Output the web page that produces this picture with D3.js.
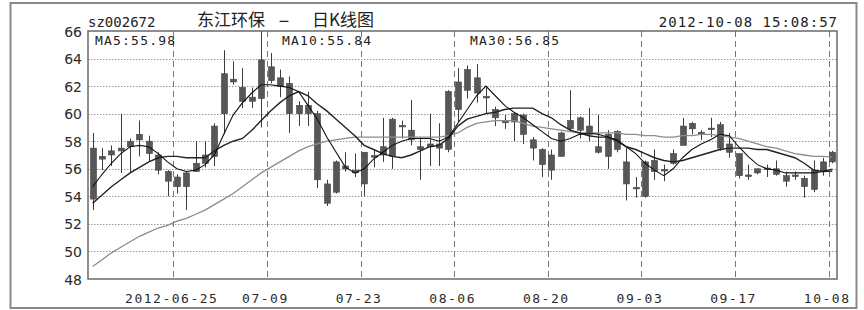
<!DOCTYPE html>
<html><head><meta charset="utf-8">
<script src="https://cdn.jsdelivr.net/npm/d3@7"></script>
<style>
html,body{margin:0;padding:0;background:#fff;}
svg{display:block;}
</style></head>
<body><svg id="c" width="864" height="310"></svg>
<script>
const dates = ["06-11","06-12","06-13","06-14","06-15","06-18","06-19","06-20","06-21",
"06-25","06-26","06-27","06-28","06-29","07-02","07-03","07-04","07-05","07-06",
"07-09","07-10","07-11","07-12","07-13","07-16","07-17","07-18","07-19","07-20",
"07-23","07-24","07-25","07-26","07-27","07-30","07-31","08-01","08-02","08-03",
"08-06","08-07","08-08","08-09","08-10","08-13","08-14","08-15","08-16","08-17",
"08-20","08-21","08-22","08-23","08-24","08-27","08-28","08-29","08-30","08-31",
"09-03","09-04","09-05","09-06","09-07","09-10","09-11","09-12","09-13","09-14",
"09-17","09-18","09-19","09-20","09-21","09-24","09-25","09-26","09-27","09-28",
"10-08"];
const openP = [57.5,56.9,57.3,57.5,57.6,58.1,58.0,57.0,55.8,55.4,54.7,55.8,56.4,56.9,60.0,62.5,61.9,61.2,61.1,63.4,
62.6,62.2,60.6,60.0,60.0,54.9,54.3,56.2,55.9,54.9,56.95,57.0,56.9,59.15,58.8,57.6,57.8,57.8,57.4,60.3,
61.7,62.6,61.25,60.3,59.45,59.4,59.9,58.1,57.4,57.0,56.9,58.9,59.7,59.1,57.6,56.9,58.7,56.5,54.65,54.0,
56.6,55.95,56.4,57.7,58.9,58.65,58.95,59.2,57.8,57.1,55.55,56.0,56.05,56.0,55.5,55.55,55.3,54.5,55.8,56.5];
const closeP = [53.8,56.7,57.0,57.3,58.0,58.5,57.1,55.9,55.1,54.7,55.7,56.4,57.0,59.1,62.9,62.3,60.9,60.9,63.9,62.4,
62.0,60.0,60.0,60.6,55.2,53.5,56.5,56.0,55.7,57.2,56.85,57.6,59.6,59.05,58.1,57.4,57.6,57.5,61.6,62.3,
63.2,61.5,61.15,59.7,59.35,60.0,58.5,57.5,56.3,55.9,58.6,59.5,58.8,58.5,57.2,58.5,57.4,54.9,54.55,56.5,
55.8,55.85,57.1,59.1,59.3,58.55,58.85,57.5,57.2,55.5,55.45,55.7,55.95,55.6,55.1,55.45,54.7,55.9,56.5,57.2];
const highP = [58.6,57.5,57.7,60.0,58.2,59.5,58.4,57.2,55.9,55.6,55.8,58.0,58.0,59.3,64.6,63.8,63.3,61.9,66.0,64.4,
63.2,62.7,60.9,61.6,60.2,55.2,56.6,57.2,57.1,57.2,57.4,59.7,59.7,59.5,61.0,58.3,60.0,59.3,61.7,63.3,
63.5,63.6,61.9,60.5,59.9,60.1,60.0,58.3,57.5,57.4,58.7,61.7,59.8,60.4,59.9,58.8,58.8,57.5,55.4,56.6,
57.4,56.3,57.4,59.7,59.4,58.8,59.7,59.4,58.6,57.1,56.3,56.0,56.3,56.6,55.8,55.8,55.5,56.6,56.8,57.3];
const lowP = [53.0,55.9,56.2,55.7,55.7,56.9,56.5,55.6,54.0,54.2,53.0,55.8,56.1,56.2,58.5,62.1,60.4,60.4,59.0,62.2,
61.2,58.6,59.1,59.1,54.6,53.3,54.2,55.8,55.4,54.0,56.1,56.5,56.0,58.2,57.7,55.2,56.2,56.2,57.2,59.4,
61.1,60.8,60.0,59.1,58.9,58.0,57.8,56.6,55.4,55.2,56.9,58.7,58.2,58.0,57.1,56.0,57.2,53.7,53.9,53.9,
55.2,55.1,56.3,57.7,58.5,58.1,58.3,57.3,56.8,55.3,55.2,55.6,55.4,55.5,54.7,55.2,53.9,54.3,55.5,56.4];
const ma5 = [54.7,55.6,56.4,57.1,57.6,57.7,57.6,57.1,56.5,56.0,55.8,55.9,56.3,57.0,58.5,59.9,60.8,61.5,62.1,62.1,
62.0,61.9,61.6,60.6,59.6,58.3,57.2,56.1,55.7,56.0,56.7,57.2,57.7,58.0,58.2,58.2,58.2,58.0,58.3,59.3,
60.3,61.3,62.0,61.3,60.6,60.1,59.7,59.2,58.7,58.2,58.0,58.2,58.5,58.6,58.5,58.3,58.1,57.6,57.1,56.4,
55.9,55.5,56.0,56.8,57.4,57.8,58.1,58.5,58.4,57.6,56.9,56.3,56.0,55.9,55.7,55.7,55.7,55.7,55.8,55.98];
const ma10 = [53.5,54.1,54.7,55.2,55.7,56.1,56.5,56.8,56.9,56.9,56.8,56.8,56.8,57.3,57.7,58.0,58.2,58.8,59.5,60.2,
60.8,61.3,61.6,61.3,60.7,60.2,59.6,59.0,58.4,57.7,57.4,57.1,56.9,56.8,57.0,57.3,57.6,57.7,58.2,59.1,
59.6,59.8,60.0,60.1,60.3,60.4,60.4,60.4,60.0,59.7,59.2,58.8,58.6,58.4,58.3,58.3,58.0,57.6,57.4,57.1,
56.8,56.6,56.5,56.6,56.8,57.0,57.2,57.4,57.5,57.5,57.5,57.4,57.4,57.2,57.0,56.8,56.4,55.9,55.8,55.84];
const ma30 = [48.9,49.4,49.9,50.3,50.7,51.1,51.4,51.7,51.9,52.2,52.4,52.7,53.0,53.4,53.8,54.2,54.7,55.2,55.7,56.1,
56.5,56.9,57.3,57.6,57.8,58.0,58.1,58.2,58.3,58.3,58.3,58.3,58.3,58.3,58.3,58.3,58.3,58.3,58.4,58.6,
59.0,59.3,59.4,59.5,59.5,59.5,59.3,59.1,59.0,58.9,58.8,58.7,58.6,58.6,58.6,58.6,58.6,58.5,58.5,58.4,
58.4,58.3,58.3,58.4,58.4,58.5,58.5,58.4,58.3,58.2,58.0,57.8,57.6,57.5,57.3,57.1,57.0,56.9,56.9,56.85];
const yTicks = [48,50,52,54,56,58,60,62,64,66];
const xTickDates = ["06-25","07-09","07-23","08-06","08-20","09-03","09-17","10-08"];
const xTickText = ["2012-06-25","07-09","07-23","08-06","08-20","09-03","09-17","10-08"];
const code = "sz002672";
const titleName = "东江环保";
const titleKind = "日K线图";
const stamp = "2012-10-08 15:08:57";
const maLabels = ["MA5:55.98","MA10:55.84","MA30:56.85"];

const svg = d3.select("#c");
const L = 88, R = 837, T = 31, B = 279;
const x = d3.scaleBand().domain(dates).range([L, R]).paddingInner(0.35).paddingOuter(0.175);
const y = d3.scaleLinear().domain([48, 66]).range([B, T]);
const bw = x.bandwidth();
const cx = d => x(d) + bw / 2;
const slotStart = d => x(d) - x.step() * x.paddingInner() / 2;

// outer frame
svg.append("rect").attr("x", 10.5).attr("y", 3).attr("width", 846).attr("height", 305)
  .attr("fill", "none").attr("stroke", "#8a8a8a").attr("stroke-width", 2);

// horizontal dotted grid
svg.append("g").selectAll("line").data(yTicks.filter(v => v > 48 && v < 66)).join("line")
  .attr("x1", L).attr("x2", R).attr("y1", d => Math.round(y(d)) + 0.5).attr("y2", d => Math.round(y(d)) + 0.5)
  .attr("stroke", "#9a9a9a").attr("stroke-width", 1).attr("stroke-dasharray", "1.5,1.5");

// vertical dashed grid
svg.append("g").selectAll("line").data(xTickDates).join("line")
  .attr("x1", d => Math.round(slotStart(d) + 1) + 0.5).attr("x2", d => Math.round(slotStart(d) + 1) + 0.5)
  .attr("y1", T).attr("y2", B)
  .attr("stroke", "#777").attr("stroke-width", 1).attr("stroke-dasharray", "6,4");

// y axis labels
const yAxis = d3.axisLeft(y).tickValues(yTicks).tickSize(0).tickPadding(0).tickFormat(d3.format("d"));
const gy = svg.append("g").attr("transform", `translate(82,0)`).call(yAxis);
gy.select(".domain").remove();
gy.selectAll("text").attr("font-family", "DejaVu Sans").attr("font-size", 14).attr("fill", "#2a2a2a").attr("dy", "0.36em");

// x axis labels
const xAxis = d3.axisBottom(x).tickValues(xTickDates).tickSize(0).tickPadding(0)
  .tickFormat((d) => xTickText[xTickDates.indexOf(d)]);
const gx = svg.append("g").attr("transform", `translate(${-bw/2 - x.step()*x.paddingInner()/2 - 0.5},303)`).call(xAxis);
gx.select(".domain").remove();
gx.selectAll("text").attr("font-family", "DejaVu Sans Mono").attr("font-size", 13)
  .attr("letter-spacing", "1.5px").attr("fill", "#2a2a2a").attr("dy", 0);

// candles
const idx = d3.range(dates.length);
const cg = svg.append("g");
cg.selectAll("line").data(idx).join("line")
  .attr("x1", i => Math.round(cx(dates[i])) + 0.5).attr("x2", i => Math.round(cx(dates[i])) + 0.5)
  .attr("y1", i => y(Math.min(highP[i], 66))).attr("y2", i => y(lowP[i]))
  .attr("stroke", "#3c3c3c").attr("stroke-width", 1);
cg.selectAll("rect").data(idx).join("rect")
  .attr("x", i => Math.round(cx(dates[i])) - 2.5)
  .attr("width", 6)
  .attr("y", i => y(Math.max(openP[i], closeP[i])))
  .attr("height", i => Math.max(1.5, Math.abs(y(openP[i]) - y(closeP[i]))))
  .attr("fill", "#575757").attr("stroke", "#444").attr("stroke-width", 0.6);

// MA lines
const line = arr => d3.line().x((d, i) => cx(dates[i])).y(d => y(d)).curve(d3.curveLinear)(arr);
svg.append("path").attr("d", line(ma30)).attr("fill", "none").attr("stroke", "#8c8c8c").attr("stroke-width", 1.3);
svg.append("path").attr("d", line(ma10)).attr("fill", "none").attr("stroke", "#222").attr("stroke-width", 1.4);
svg.append("path").attr("d", line(ma5)).attr("fill", "none").attr("stroke", "#111").attr("stroke-width", 1.1);

// plot frame
svg.append("rect").attr("x", L).attr("y", T).attr("width", R - L).attr("height", B - T)
  .attr("fill", "none").attr("stroke", "#6a6a6a").attr("stroke-width", 1.5);

// MA labels
const maX = [95, 282, 470];
svg.append("g").selectAll("text").data(maLabels).join("text")
  .attr("x", (d, i) => maX[i]).attr("y", 45)
  .attr("font-family", "DejaVu Sans Mono").attr("font-size", 13).attr("letter-spacing", "1.2px")
  .attr("fill", "#222").text(d => d);

// header
svg.append("text").attr("x", 88).attr("y", 27).attr("font-family", "DejaVu Sans Mono")
  .attr("font-size", 14).attr("fill", "#222").text(code);
svg.append("text").attr("x", 197).attr("y", 26).attr("font-family", "Noto Sans CJK SC")
  .attr("font-size", 17).attr("fill", "#222").text(titleName);
svg.append("text").attr("x", 278).attr("y", 26).attr("font-family", "Noto Sans CJK SC")
  .attr("font-size", 17).attr("fill", "#222").attr("textLength", 12).attr("lengthAdjust", "spacingAndGlyphs").text("-");
svg.append("text").attr("x", 312).attr("y", 26).attr("font-family", "Noto Sans CJK SC")
  .attr("font-size", 17).attr("fill", "#222").text(titleKind);
svg.append("text").attr("x", 838).attr("y", 27).attr("text-anchor", "end").attr("font-family", "DejaVu Sans Mono")
  .attr("font-size", 14).attr("letter-spacing", "1px").attr("fill", "#222").text(stamp);
</script></body></html>
